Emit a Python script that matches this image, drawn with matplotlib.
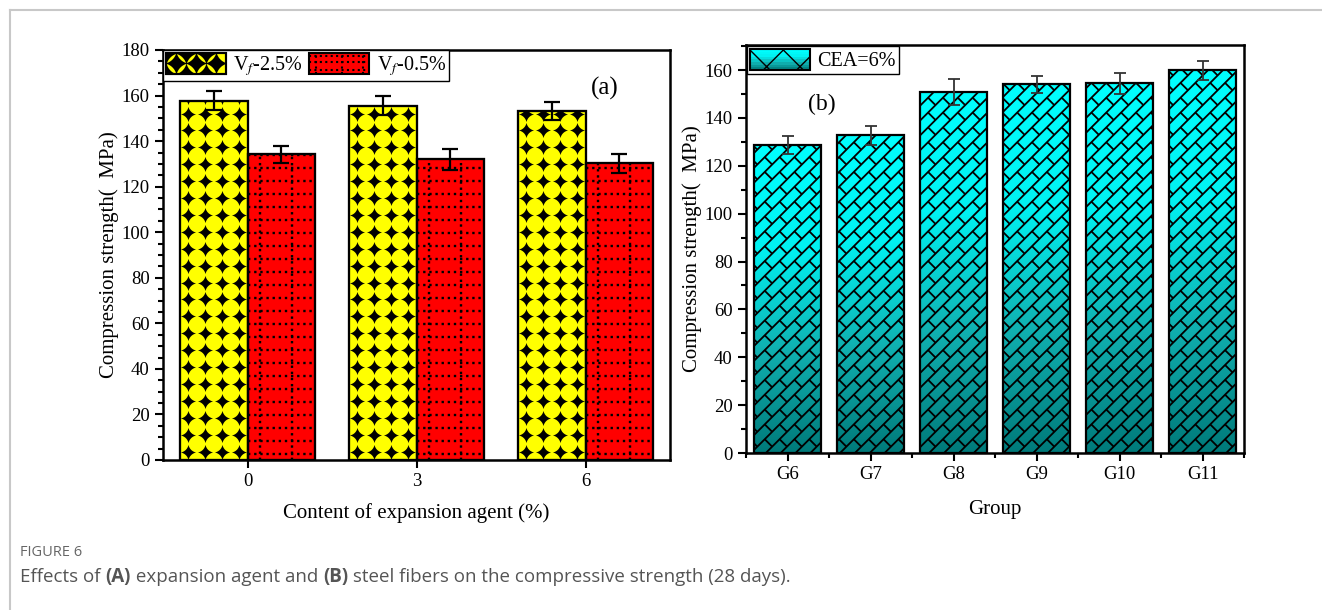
import numpy as np
import matplotlib
matplotlib.use("Agg")
import matplotlib.pyplot as plt
from matplotlib.path import Path
from matplotlib.patches import Rectangle
from matplotlib.lines import Line2D
from matplotlib.collections import LineCollection
from matplotlib.transforms import IdentityTransform
from matplotlib.colors import LinearSegmentedColormap
from matplotlib.legend_handler import HandlerBase

plt.rcParams['font.family'] = ['Liberation Serif', 'DejaVu Sans']
plt.rcParams['mathtext.fontset'] = 'stix'

# (a) effect of expansion agent content
ea_content = [0, 3, 6]
vf25_mean = [157.8, 155.6, 153.3]
vf25_err = [4.3, 4.0, 3.9]
vf05_mean = [134.2, 132.0, 130.2]
vf05_err = [3.6, 4.6, 4.0]

# (b) effect of steel fibres at CEA = 6%
groups = ['G6', 'G7', 'G8', 'G9', 'G10', 'G11']
g_mean = [128.6, 132.8, 150.9, 154.0, 154.5, 160.0]
g_err = [3.8, 4.0, 5.3, 3.5, 4.5, 4.0]

W, H = 1322, 610
fig = plt.figure(figsize=(W / 100, H / 100), dpi=100)

R_CIRC = 1.02
TIP = 1 - np.sqrt(R_CIRC ** 2 - 1)


def make_star(r=R_CIRC):
    # black diamond left over between four overlapping yellow circles
    a = TIP
    verts = []
    for cx, cy, p0, p1 in [(1, 1, (a, 0), (0, a)), (-1, 1, (0, a), (-a, 0)),
                           (-1, -1, (-a, 0), (0, -a)), (1, -1, (0, -a), (a, 0))]:
        t0 = np.arctan2(p0[1] - cy, p0[0] - cx)
        t1 = np.arctan2(p1[1] - cy, p1[0] - cx)
        if t1 > t0:
            t1 -= 2 * np.pi
        ang = np.linspace(t0, t1, 10)
        verts += list(zip(cx + r * np.cos(ang), cy + r * np.sin(ang)))[:-1]
    verts.append(verts[0])
    codes = [Path.MOVETO] + [Path.LINETO] * (len(verts) - 2) + [Path.CLOSEPOLY]
    return Path(verts, codes)


star = make_star()
teal = LinearSegmentedColormap.from_list('teal', ['#007a7a', '#10b0b0', '#00f2f2', '#00ffff'])
CELL = 16.9  # pattern cell in pixels


def star_fill(ax, patch, nx=4):
    x0 = patch.get_x()
    w, h = patch.get_width(), patch.get_height()
    dy = CELL / (ax.transData.transform((0, 1))[1] - ax.transData.transform((0, 0))[1])
    xs = x0 + (np.arange(nx) + 0.5) * w / nx
    ys = np.arange(dy * 0.5, h + dy, dy)
    X, Y = np.meshgrid(xs, ys)
    ln, = ax.plot(X.ravel(), Y.ravel(), ls='none', marker=star,
                  ms=CELL * 0.72 * 0.9, mfc='black', mec='none', zorder=3)
    ln.set_clip_path(patch)


def dot_grid(ax, patch, dy=5.7):
    x0, w, h = patch.get_x(), patch.get_width(), patch.get_height()
    ys = np.arange(dy * 0.5, h, dy)
    hl = ax.hlines(ys, x0, x0 + w, colors='black', linestyles=(0, (1, 1.6)),
                   lw=1.7, zorder=3)
    vl = ax.vlines([x0 + 0.19 * w, x0 + 0.66 * w], 0, h, colors='black',
                   linestyles=(0, (1, 1.6)), lw=1.7, zorder=3)
    hl.set_clip_path(patch)
    vl.set_clip_path(patch)


def brick_segments(px0, py0, px1, py1, d=10.5, L=21.0):
    # diagonal brick lattice, laid out in pixel space so it stays square
    q = np.sqrt(0.5)
    pts = np.array([(px0, py0), (px1, py0), (px0, py1), (px1, py1)])
    s_all = (pts[:, 0] + pts[:, 1]) * q
    t_all = (pts[:, 1] - pts[:, 0]) * q
    s_lo, s_hi = s_all.min() - L, s_all.max() + L
    k_lo, k_hi = int(np.floor(t_all.min() / d)) - 1, int(np.ceil(t_all.max() / d)) + 1

    def xy(s, t):
        return ((s - t) * q, (s + t) * q)

    segs = []
    for k in range(k_lo, k_hi + 1):
        t = k * d
        segs.append([xy(s_lo, t), xy(s_hi, t)])
        off = (k % 2) * L / 2
        for j in range(int(np.floor((s_lo - off) / L)), int(np.ceil((s_hi - off) / L)) + 1):
            s = j * L + off
            segs.append([xy(s, t), xy(s, t + d)])
    return segs


def brick_fill(ax, patch):
    x0, y0 = patch.get_x(), patch.get_y()
    (px0, py0), (px1, py1) = ax.transData.transform(
        [(x0, y0), (x0 + patch.get_width(), y0 + patch.get_height())])
    lc = LineCollection(brick_segments(px0, py0, px1, py1), colors='black',
                        linewidths=1.3, transform=IdentityTransform(), zorder=3)
    ax.add_collection(lc, autolim=False)
    lc.set_clip_path(patch)


class PatternHandler(HandlerBase):
    def __init__(self, kind):
        super().__init__()
        self.kind = kind

    def create_artists(self, legend, orig_handle, xdescent, ydescent,
                       width, height, fontsize, trans):
        x0, y0 = -xdescent, -ydescent
        arts = []
        if self.kind == 'star':
            bg = Rectangle((x0, y0), width, height, fc='yellow', ec='black',
                           lw=1.5, transform=trans)
            arts.append(bg)
            xs = x0 + (np.arange(3) + 0.5) * width / 3
            m = Line2D(xs, [y0 + height / 2] * 3, ls='none', marker=star,
                       ms=height * 1.1, mfc='black', mec='none',
                       transform=trans)
            m.set_clip_path(bg)
            arts.append(m)
            for yy in (y0, y0 + height):
                m2 = Line2D(xs - width / 6, [yy] * 3, ls='none', marker=star,
                            ms=height * 1.1, mfc='black', mec='none',
                            transform=trans)
                m2.set_clip_path(bg)
                arts.append(m2)
            arts.append(Rectangle((x0, y0), width, height, fc='none', ec='black',
                                  lw=1.5, transform=trans))
        elif self.kind == 'dots':
            bg = Rectangle((x0, y0), width, height, fc='red', ec='black',
                           lw=1.5, transform=trans)
            arts.append(bg)
            for yy in (y0 + height * 0.2, y0 + height * 0.55, y0 + height * 0.85):
                arts.append(Line2D([x0, x0 + width], [yy, yy], color='black',
                                   ls=(0, (1, 1.6)), lw=1.5, transform=trans))
            for xx in (x0 + width * 0.12, x0 + width * 0.55, x0 + width * 0.9):
                arts.append(Line2D([xx, xx], [y0, y0 + height], color='black',
                                   ls=(0, (1, 1.6)), lw=1.5, transform=trans))
        else:
            n = 8
            for i in range(n):
                arts.append(Rectangle((x0, y0 + i * height / n), width, height / n,
                                      fc=teal((i + 0.5) / n), ec='none',
                                      transform=trans))
            arts.append(Rectangle((x0, y0), width, height, fc='none', ec='black',
                                  hatch='x', lw=1.5, transform=trans))
        return arts


def style_axes(ax):
    for s in ax.spines.values():
        s.set_linewidth(1.8)
    ax.tick_params(which='both', direction='out', width=1.5, labelsize=13.5,
                   top=False, right=False)
    ax.tick_params(which='major', length=6)
    ax.tick_params(which='minor', length=3.5)


ylab = 'Compression strength(  MPa)'

# ---------- panel (a) ----------
ax1 = fig.add_axes([163 / W, 1 - 460 / H, 507 / W, 410 / H])
bw = 1.2
x = np.array(ea_content, dtype=float)
ax1.set_xlim(-1.5, 7.5)
ax1.set_ylim(0, 180)
b1 = ax1.bar(x - bw / 2, vf25_mean, bw, color='yellow', edgecolor='black',
             lw=1.5, zorder=2)
b2 = ax1.bar(x + bw / 2, vf05_mean, bw, color='red', edgecolor='black',
             lw=1.5, zorder=2)
for p in b1:
    star_fill(ax1, p)
for p in b2:
    dot_grid(ax1, p)
# bar outlines on top of the fill patterns
for p in list(b1) + list(b2):
    ax1.add_patch(Rectangle(p.get_xy(), p.get_width(), p.get_height(),
                            fc='none', ec='black', lw=1.6, zorder=4))
ax1.errorbar(x - bw / 2, vf25_mean, yerr=vf25_err, fmt='none', ecolor='black',
             elinewidth=1.6, capsize=6, capthick=1.6, zorder=5)
ax1.errorbar(x + bw / 2, vf05_mean, yerr=vf05_err, fmt='none', ecolor='black',
             elinewidth=1.6, capsize=6, capthick=1.6, zorder=5)

ax1.set_xticks(ea_content)
ax1.set_xticklabels([str(v) for v in ea_content])
ax1.set_yticks(np.arange(0, 181, 20))
ax1.set_yticks(np.arange(0, 181, 5), minor=True)
style_axes(ax1)
ax1.set_ylabel(ylab, fontsize=15, labelpad=2)
ax1.set_xlabel('Content of expansion agent (%)', fontsize=15, labelpad=9)
ax1.text(0.872, 0.905, '(a)', transform=ax1.transAxes, fontsize=18,
         ha='center', va='center')

h_star = Rectangle((0, 0), 1, 1)
h_dots = Rectangle((0, 0), 1, 1)
ax1.legend([h_star, h_dots], ['V$_{f}$-2.5%', 'V$_{f}$-0.5%'],
           handler_map={h_star: PatternHandler('star'),
                        h_dots: PatternHandler('dots')},
           loc='upper left', ncol=2, frameon=True, fancybox=False,
           edgecolor='black', framealpha=1, fontsize=14.5,
           borderaxespad=0, borderpad=0.15, handlelength=3.0, handleheight=1.2,
           handletextpad=0.35, columnspacing=0.3).get_frame().set_linewidth(1.0)

# ---------- panel (b) ----------
ax2 = fig.add_axes([746 / W, 1 - 453 / H, 498 / W, 408 / H])
xg = np.arange(len(groups))
ax2.set_xlim(-0.5, len(groups) - 0.5)
ax2.set_ylim(0, 170.5)
grad = np.linspace(0, 1, 256).reshape(-1, 1)
bars = ax2.bar(xg, g_mean, 0.8, color='none', edgecolor='black', lw=1.6,
               zorder=4)
for p in bars:
    im = ax2.imshow(grad, cmap=teal, origin='lower', aspect='auto',
                    extent=(p.get_x(), p.get_x() + p.get_width(), 0, p.get_height()),
                    zorder=2)
    im.set_clip_path(p)
    brick_fill(ax2, p)
ax2.set_xlim(-0.5, len(groups) - 0.5)
ax2.set_ylim(0, 170.5)
ax2.errorbar(xg, g_mean, yerr=g_err, fmt='none', ecolor='#333333',
             elinewidth=1.3, capsize=4.5, capthick=1.3, zorder=5)

ax2.set_xticks(xg)
ax2.set_xticklabels(groups)
ax2.set_xticks(np.arange(-0.5, len(groups), 1), minor=True)
ax2.set_yticks(np.arange(0, 161, 20))
ax2.set_yticks(np.arange(0, 171, 10), minor=True)
style_axes(ax2)
ax2.set_ylabel(ylab, fontsize=15, labelpad=2)
ax2.set_xlabel('Group', fontsize=15, labelpad=12)
ax2.text(0.153, 0.855, '(b)', transform=ax2.transAxes, fontsize=17,
         ha='center', va='center')

h_cea = Rectangle((0, 0), 1, 1)
ax2.legend([h_cea], ['CEA=6%'], handler_map={h_cea: PatternHandler('cea')},
           loc='upper left', frameon=True, fancybox=False, edgecolor='black',
           framealpha=1, fontsize=14.5, borderaxespad=0.05, borderpad=0.15,
           handlelength=3.0, handleheight=1.2,
           handletextpad=0.35).get_frame().set_linewidth(1.0)

# page frame and caption
fig.add_artist(Line2D([10 / W, 10 / W], [0, 1 - 10 / H], color='#c8c8c8',
                      lw=1.5, transform=fig.transFigure))
fig.add_artist(Line2D([10 / W, 1], [1 - 10 / H, 1 - 10 / H], color='#c8c8c8',
                      lw=1.5, transform=fig.transFigure))
fig.text(20 / W, 1 - 553 / H, 'FIGURE 6', family='Open Sans', fontsize=10.5,
         color='#666666', va='center')
cap = [('Effects of ', 'normal'), ('(A)', 'bold'), (' expansion agent and ', 'normal'),
       ('(B)', 'bold'), (' steel fibers on the compressive strength (28 days).', 'normal')]
xpos = 20 / W
r = fig.canvas.get_renderer()
for txt, wt in cap:
    t = fig.text(xpos, 1 - 577 / H, txt, family='Open Sans', fontsize=13.5,
                 color='#555555', weight=wt, va='center')
    bb = t.get_window_extent(renderer=r)
    xpos += bb.width / W

fig.savefig('out.png', dpi=100)
